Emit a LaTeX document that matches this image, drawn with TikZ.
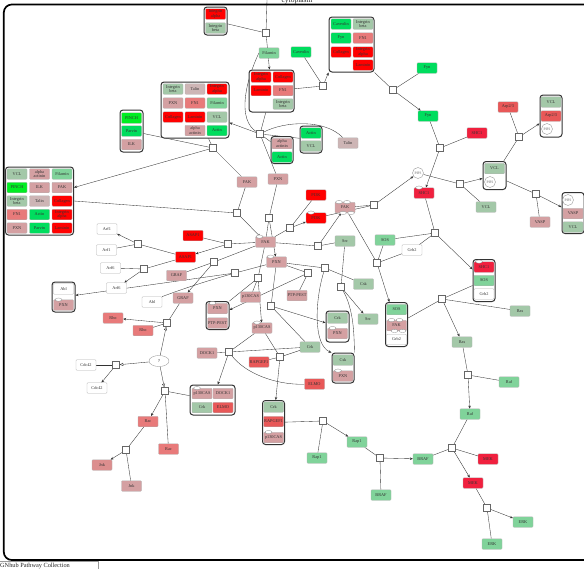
\documentclass[tikz,border=0pt]{standalone}
\usepackage{fontspec}
\setmainfont{Liberation Serif}
\usetikzlibrary{arrows.meta,shapes.geometric,backgrounds}
\pgfdeclarelayer{edges}
\pgfsetlayers{background,edges,main}
\definecolor{cRed}{HTML}{FF0000}
\definecolor{cCrim}{HTML}{F0203E}
\definecolor{cSalm}{HTML}{E87A7A}
\definecolor{cSalmB}{HTML}{E85858}
\definecolor{cPink}{HTML}{D4A0A2}
\definecolor{cPinkB}{HTML}{DC8E8E}
\definecolor{cTalin}{HTML}{CDB5B5}
\definecolor{cGG}{HTML}{A3C8A8}
\definecolor{cGreen}{HTML}{80D39A}
\definecolor{cBright}{HTML}{00DD5E}
\definecolor{cLime}{HTML}{00EE22}
\begin{document}
\begin{tikzpicture}[x=1pt,y=-1pt,
  pn/.style={rectangle, draw=black!30, line width=0.3pt, rounded corners=0.8pt,
    minimum width=20pt, minimum height=10.5pt, inner sep=0.2pt,
    font=\fontsize{4.3}{4.4}\selectfont, align=center, text=black!80},
  cx/.style={rectangle, draw=black!80, line width=1pt, rounded corners=3pt, fill=white, inner sep=0},
  sq/.style={rectangle, draw=black!60, fill=white, minimum size=7pt, inner sep=0, line width=0.35pt},
  ov/.style={ellipse, draw=black!45, fill=white, minimum width=7pt, minimum height=3.2pt, inner sep=0, line width=0.3pt},
  pip/.style={circle, draw=black!40, fill=white, minimum size=11pt, inner sep=0,
    font=\fontsize{3.6}{4}\selectfont, text=black!60},
  ln/.style={draw=black!80, line width=0.35pt},
  ar/.style={ln, -{Stealth[length=3pt,width=2.5pt]}},
  mdl/.style={ln, -{Triangle[open,length=3.5pt,width=3pt]}}]
\useasboundingbox (0,0) rectangle (584,568);
\begin{pgfonlayer}{background}
\fill[white] (0,0) rectangle (584,568);
\end{pgfonlayer}

% compartment frame
\draw[line width=1.7pt, rounded corners=8pt] (584,4.5) -- (3.8,4.5) -- (3.8,560) -- (584,560);
\node[font=\fontsize{7.5}{7.5}\selectfont, anchor=base, text=black!85] (cyto) at (297,2.3) {cytoplasm};
\coordinate (cy) at (267,0);
\draw[draw=black!40, fill=white, line width=0.4pt] (-1,561.5) rectangle (98,570);
\node[font=\fontsize{6.3}{6.3}\selectfont, anchor=west, inner sep=0, text=black!85] (coll) at (0,565.5) {GNhub Pathway Collection};

% ---------- complexes ----------
\node[cx, minimum width=23, minimum height=28] (cxTop) at (215.5,21) {};
\node[cx, minimum width=45, minimum height=55] (cxTR) at (351.5,44.5) {};
\node[cx, minimum width=45, minimum height=42] (cxC) at (271.5,91) {};
\node[cx, minimum width=68, minimum height=56] (cxB) at (195,110) {};
\node[cx, minimum width=23, minimum height=42] (cxP) at (131.5,131) {};
\node[cx, minimum width=68, minimum height=68] (cxL) at (39.5,201) {};
\node[cx, minimum width=22, minimum height=27] (cxAV) at (311,139.5) {};
\node[cx, minimum width=22, minimum height=27] (cxAA) at (282,150) {};
\node[cx, minimum width=23, minimum height=28] (cxVP) at (494.5,175.5) {};
\node[cx, minimum width=22, minimum height=42] (cxVAP) at (551,116) {};
\node[cx, minimum width=22, minimum height=41] (cxPVV) at (573,213) {};
\node[cx, minimum width=22, minimum height=42] (cxS) at (484,280.5) {};
\node[cx, minimum width=22, minimum height=44] (cxSF) at (396.5,324.5) {};
\node[cx, minimum width=23, minimum height=30] (cxAbl) at (63.5,297) {};
\node[cx, minimum width=23, minimum height=28] (cxPP) at (217.5,315.5) {};
\node[cx, minimum width=23, minimum height=31] (cxCP) at (337.5,326.5) {};
\node[cx, minimum width=22, minimum height=30] (cxCsk) at (343,368) {};
\node[cx, minimum width=45, minimum height=30] (cxD) at (212.5,400) {};
\node[cx, minimum width=22, minimum height=44] (cxR) at (273.5,422.5) {};

% ---------- complex members ----------
\node[pn, fill=cRed] (ta) at (215.5,14) {Integrin\\alpha};
\node[pn, fill=cGG] (tb) at (215.5,28) {Integrin\\beta};

\node[pn, fill=cBright] (tr1) at (341,24) {Caveolin};
\node[pn, fill=cGG] (tr2) at (363,24) {Integrin\\beta};
\node[pn, fill=cBright] (tr3) at (341,38) {Fyn};
\node[pn, fill=cSalm] (tr4) at (363,38) {FN1};
\node[pn, fill=cRed] (tr5) at (341,52) {Collagen};
\node[pn, fill=cRed] (tr6) at (363,52) {Integrin\\alpha};
\node[pn, fill=cRed] (tr7) at (363,65) {Laminin};

\node[pn, fill=cRed] (c1) at (261,77) {Integrin\\alpha};
\node[pn, fill=cRed] (c2) at (283,77) {Collagen};
\node[pn, fill=cRed] (c3) at (261,90.5) {Laminin};
\node[pn, fill=cSalm] (c4) at (283,90.5) {FN1};
\node[pn, fill=cGG] (c5) at (283,104) {Integrin\\beta};

\node[pn, fill=cGG] (b11) at (173,89) {Integrin\\beta};
\node[pn, fill=cTalin] (b12) at (195,89) {Talin};
\node[pn, fill=cRed] (b13) at (217,89) {Integrin\\alpha};
\node[pn, fill=cPink] (b21) at (173,103) {PXN};
\node[pn, fill=cSalm] (b22) at (195,103) {FN1};
\node[pn, fill=cGreen] (b23) at (217,103) {Filamin};
\node[pn, fill=cRed] (b31) at (173,117) {Collagen};
\node[pn, fill=cRed] (b32) at (195,117) {Laminin};
\node[pn, fill=cGG] (b33) at (217,117) {VCL};
\node[pn, fill=cPink] (b42) at (195,130.5) {alpha\\actinin};
\node[pn, fill=cBright] (b43) at (217,130.5) {Actin};

\node[pn, fill=cLime] (p1) at (131.5,118) {PINCH};
\node[pn, fill=cBright] (p2) at (131.5,131) {Parvin};
\node[pn, fill=cPink] (p3) at (131.5,144.5) {ILK};

\node[pn, fill=cGG] (l11) at (17,174) {VCL};
\node[pn, fill=cPink] (l12) at (39.5,174) {alpha\\actinin};
\node[pn, fill=cGreen] (l13) at (62,174) {Filamin};
\node[pn, fill=cLime] (l21) at (17,187.5) {PINCH};
\node[pn, fill=cPink] (l22) at (39.5,187.5) {ILK};
\node[pn, fill=cPink] (l23) at (62,187.5) {FAK};
\node[pn, fill=cGG] (l31) at (17,201) {Integrin\\beta};
\node[pn, fill=cTalin] (l32) at (39.5,201) {Talin};
\node[pn, fill=cRed] (l33) at (62,201) {Collagen};
\node[pn, fill=cSalm] (l41) at (17,214.5) {FN1};
\node[pn, fill=cBright] (l42) at (39.5,214.5) {Actin};
\node[pn, fill=cRed] (l43) at (62,214.5) {Integrin\\alpha};
\node[pn, fill=cPink] (l51) at (17,228) {PXN};
\node[pn, fill=cBright] (l52) at (39.5,228) {Parvin};
\node[pn, fill=cRed] (l53) at (62,228) {Laminin};

\node[pn, fill=cBright] (av1) at (311,133) {Actin};
\node[pn, fill=cGG] (av2) at (311,146) {VCL};
\node[pn, fill=cPink] (aa1) at (282,143.5) {alpha\\actinin};
\node[pn, fill=cBright] (aa2) at (282,157) {Actin};

\node[pn, fill=cGG] (vp1) at (494.5,168.5) {VCL};
\node[pip] (vp2) at (490,182) {PIP2};
\node[pn, fill=cGG] (vap1) at (551,102) {VCL};
\node[pn, fill=cSalmB] (vap2) at (551,116) {Arp2/3};
\node[pip] (vap3) at (547,129) {PIP2};
\node[pip] (pvv1) at (568,200) {PIP2};
\node[pn, fill=cPink] (pvv2) at (573,213.5) {VASP};
\node[pn, fill=cGG] (pvv3) at (573,227) {VCL};

\node[pn, fill=cCrim] (s1) at (484,267) {SHC1};
\node[pn, fill=cGreen] (s2) at (484,280.5) {SOS};
\node[pn, fill=white] (s3) at (484,294) {Grb2};
\node[ov] at ([xshift=-5pt]s1.north) {};

\node[pn, fill=cGreen] (sf1) at (396.5,309.5) {SOS};
\node[pn, fill=cPink] (sf2) at (396.5,325.5) {FAK};
\node[pn, fill=white] (sf3) at (396.5,339.5) {Grb2};
\node[ov] at ([xshift=-5pt]sf2.north) {};
\node[ov] at ([xshift=3pt]sf2.north) {};
\node[ov] at ([xshift=-2pt]sf2.south) {};
\node[ov] at ([xshift=6pt]sf2.south) {};

\node[pn, fill=white] (ab1) at (63.5,289) {Abl};
\node[pn, fill=cPink] (ab2) at (63.5,305) {PXN};
\node[ov] at ([xshift=-5pt]ab2.north) {};

\node[pn, fill=cPink] (pp1) at (217.5,308.5) {PXN};
\node[pn, fill=cPink] (pp2) at (217.5,323) {PTP-PEST};
\node[ov] at ([xshift=-5pt]pp1.north) {};

\node[pn, fill=cGG] (cp1) at (337.5,318) {Crk};
\node[pn, fill=cPink] (cp2) at (337.5,333.5) {PXN};
\node[ov] at ([xshift=-5pt]cp2.north) {};

\node[pn, fill=cGG] (ck1) at (343,360) {Csk};
\node[pn, fill=cPink] (ck2) at (343,376) {PXN};
\node[ov] at ([xshift=-5pt]ck2.north) {};

\node[pn, fill=cPink] (d1) at (202,393.5) {p130CAS};
\node[pn, fill=cPink] (d2) at (223,393.5) {DOCK1};
\node[pn, fill=cGG] (d3) at (202,407.5) {Crk};
\node[pn, fill=cSalmB] (d4) at (223,407.5) {ELMO};
\node[ov] at ([xshift=-5pt]d1.north) {};

\node[pn, fill=cGG] (r1) at (273.5,407) {Crk};
\node[pn, fill=cSalmB] (r2) at (273.5,421.5) {RAPGEF1};
\node[pn, fill=cPink] (r3) at (273.5,437.5) {p130CAS};
\node[ov] at ([xshift=-5pt]r3.north) {};

% ---------- single entities ----------
\node[pn, fill=cGreen] (fil) at (269,53) {Filamin};
\node[pn, fill=cBright] (cav) at (301,52) {Caveolin};
\node[pn, fill=cTalin] (talin) at (348,143) {Talin};
\node[pn, fill=cPink] (fakA) at (247,182) {FAK};
\node[pn, fill=cPink] (pxA) at (278,179) {PXN};
\node[pn, fill=cBright] (fyn1) at (427,68) {Fyn};
\node[pn, fill=cBright] (fyn2) at (428,116) {Fyn};
\node[pn, fill=cCrim] (shcA) at (477,133) {SHC1};
\node[pn, fill=cCrim] (shcB) at (424,193) {SHC1};
\node[ov] at ([xshift=-5pt]shcB.north) {};
\node[pip] (pip3) at (418,173) {PIP3};
\node[pn, fill=cGG] (vclA) at (486,207) {VCL};
\node[pn, fill=cSalmB] (arp) at (508,107) {Arp2/3};
\node[pn, fill=cPink] (vasp) at (540,222) {VASP};
\node[pn, fill=cRed] (pi3kA) at (316,195) {PI3K};
\node[pn, fill=cRed] (pi3kB) at (316,218) {PI3K};
\node[ov] at ([xshift=-5pt]pi3kB.north) {};
\node[pn, fill=cPink] (fakO) at (345,207.5) {FAK};
\node[ov] at ([xshift=-6pt]fakO.north) {};
\node[ov] at ([xshift=2pt]fakO.north) {};
\node[ov] at ([xshift=-2pt]fakO.south) {};
\node[ov] at ([xshift=6pt]fakO.south) {};
\node[pn, fill=cGG] (srcA) at (345,241) {Src};
\node[pn, fill=cGreen] (sosA) at (385,240) {SOS};
\node[pn, fill=white] (grbA) at (412,250) {Grb2};
\node[pn, fill=cGG] (rasA) at (520,311) {Ras};
\node[pn, fill=cGG] (rasB) at (462,342) {Ras};
\node[pn, fill=cGreen] (rafA) at (509,382) {Raf};
\node[pn, fill=cGreen] (rafB) at (470,414) {Raf};
\node[pn, fill=cCrim] (mekA) at (488,459) {MEK};
\node[pn, fill=cCrim] (mekB) at (473,483) {MEK};
\node[pn, fill=cGreen] (brafA) at (423,459) {BRAF};
\node[pn, fill=cGreen] (brafB) at (381,495) {BRAF};
\node[pn, fill=cGreen] (erkA) at (523,522) {ERK};
\node[pn, fill=cGreen] (erkB) at (492,544) {ERK};
\node[pn, fill=cGreen] (rapA) at (357,442) {Rap1};
\node[pn, fill=cGreen] (rapB) at (317,458) {Rap1};

\node[pn, fill=cPink] (fakC) at (265.5,242) {FAK};
\node[ov] at ([xshift=-6pt]fakC.north) {};
\node[pn, fill=cRed] (asapA) at (193,235.5) {ASAP1};
\node[pn, fill=cRed] (asapB) at (185.5,257) {ASAP1};
\node[pn, fill=white] (arf1A) at (107,229) {Arf1};
\node[pn, fill=white] (arf1B) at (106.5,250) {Arf1};
\node[pn, fill=white] (arf6A) at (110.5,268) {Arf6};
\node[pn, fill=white] (arf6B) at (116.5,288) {Arf6};
\node[pn, fill=cPink] (grafA) at (176.5,275.5) {GRAF};
\node[pn, fill=cPink] (grafB) at (183,298) {GRAF};
\node[pn, fill=white] (ablS) at (152,302) {Abl};
\node[pn, fill=cSalm] (rhoA) at (113,318) {Rho};
\node[pn, fill=cSalm] (rhoB) at (143,330.5) {Rho};
\node[ellipse, draw=black!45, fill=white, minimum width=20pt, minimum height=11pt, inner sep=0,
  line width=0.3pt, font=\fontsize{4.3}{4.4}\selectfont] (qm) at (159,361) {?};
\node[pn, fill=white] (cdcA) at (86,365) {Cdc42};
\node[pn, fill=white] (cdcB) at (97,388) {Cdc42};
\node[pn, fill=cSalm] (racA) at (148,421.5) {Rac};
\node[pn, fill=cSalm] (racB) at (168.5,449) {Rac};
\node[pn, fill=cPinkB] (jnkA) at (102,465) {Jnk};
\node[pn, fill=cPink] (jnkB) at (131.5,486) {Jnk};
\node[pn, fill=cPink] (pxC) at (276.5,262) {PXN};
\node[ov] at ([xshift=-6pt]pxC.north) {};
\node[pn, fill=cPink] (pcasA) at (250.5,297) {p130CAS};
\node[pn, fill=cPink] (ptpA) at (297,295.5) {PTP-PEST};
\node[pn, fill=cPink] (pcasB) at (262,328) {p130CAS};
\node[ov] at ([xshift=-5pt]pcasB.north) {};
\node[pn, fill=cPink] (dockA) at (207,353) {DOCK1};
\node[pn, fill=cGG] (crkA) at (310,347) {Crk};
\node[pn, fill=cSalmB] (rapgA) at (259,362) {RAPGEF1};
\node[pn, fill=cSalmB] (elmoA) at (314.5,384) {ELMO};
\node[pn, fill=cGG] (cskA) at (363.5,284) {Csk};
\node[pn, fill=cGG] (srcB) at (368,319) {Src};

% ---------- process squares ----------
\node[sq] (sTop) at (266,33) {};
\node[sq] (sCav) at (323,86) {};
\node[sq] (sCen) at (260,134) {};
\node[sq] (sLeft) at (213,148) {};
\node[sq] (sFyn) at (393,90) {};
\node[sq] (sShcA) at (440,148) {};
\node[sq] (sVcl) at (460,184) {};
\node[sq] (sArp) at (519,137) {};
\node[sq] (sVasp) at (536,194) {};
\node[sq] (sFak2) at (374,205) {};
\node[sq] (sPi3k) at (290,228) {};
\node[sq] (sFakC) at (237,213) {};
\node[sq] (sPxn) at (269,218) {};
\node[sq] (sSrc1) at (318,246) {};
\node[sq] (sAsap) at (228,244) {};
\node[sq] (sGraf) at (214,262) {};
\node[sq] (sAbl) at (235,273) {};
\node[sq] (sPcas) at (258,278) {};
\node[sq] (sPtp) at (308,273) {};
\node[sq] (sCsk) at (325,268) {};
\node[sq] (sSrc2) at (341,287) {};
\node[sq] (sCrk) at (271,306) {};
\node[sq] (sArf1) at (138,244) {};
\node[sq] (sArf6) at (144,269) {};
\node[sq] (sRho) at (167,323) {};
\node[sq] (sCdc) at (116,365) {};
\node[sq] (sRac) at (165,391) {};
\node[sq] (sJnk) at (126,450) {};
\node[sq] (sDock) at (229,352) {};
\node[sq] (sRapg) at (280,357) {};
\node[sq] (sRap1) at (323,421) {};
\node[sq] (sBraf) at (380,458) {};
\node[sq] (sShc) at (435,233) {};
\node[sq] (sSos) at (377,263) {};
\node[sq] (sRas) at (442,299) {};
\node[sq] (sRaf) at (468,375) {};
\node[sq] (sMek) at (452,448) {};
\node[sq] (sErk) at (487,508) {};

% ---------- connectors ----------
\begin{pgfonlayer}{edges}
\draw[ln] (cy) -- (sTop);
\draw[ln] (cxTop) -- (sTop);
\draw[ar] (sTop) -- (cxC);
\draw[ln] (fil.west) .. controls (244,85) and (238,120) .. (sCen);
\draw[ln] (cxC) -- (sCav);
\draw[ln] (cav) -- (sCav);
\draw[ar] (sCav) -- (cxTR.south west);
\draw[ln] (cxTR.south east) -- (sFyn);
\draw[ln] (fyn1) -- (sFyn);
\draw[ar] (sFyn) -- (fyn2);
\draw[ln] (fyn2) -- (sShcA);
\draw[ln] (shcA) -- (sShcA);
\draw[ar] (sShcA) -- (shcB);
\draw[ln] (cxC) -- (sCen);
\draw[ar] (sCen) -- (cxB);
\draw[ln] (sCen) -- (cxAV);
\draw[ln] (sCen) -- (cxAA);
\draw[ln] (sCen) .. controls (285,121) and (325,119) .. (talin);
\draw[ln] (sCen) -- (pxA);
\draw[ln] (cxB) -- (sLeft);
\draw[ln] (cxP) -- (sLeft);
\draw[ar] (sLeft) -- (cxL.east |- l23);
\draw[ln] (sLeft) -- (fakA);
\draw[ln] (fakA) -- (sFakC);
\draw[ln] (cxL.east |- l33) -- (sFakC);
\draw[ar] (sFakC) -- (fakC);
\draw[ln] (pxA) -- (sPxn);
\draw[ln] (fakC) -- (sPxn);
\draw[ar] (sPxn) -- (pxC);
\draw[ln] (fakC) -- (sPi3k);
\draw[ln] (pi3kA) -- (sPi3k);
\draw[ar] (sPi3k) -- (pi3kB);
\draw[ln] (pi3kB) -- (sFak2);
\draw[ln] (fakO) -- (sFak2);
\draw[ar] (sFak2) -- (pip3);
\draw[ln] (fakC) -- (sSrc1);
\draw[ln] (srcA) -- (sSrc1);
\draw[ar] (sSrc1) -- (fakO);
\draw[ln] (pip3) -- (sVcl);
\draw[ln] (vclA) -- (sVcl);
\draw[ar] (sVcl) -- (cxVP);
\draw[ln] (cxVP) -- (sArp);
\draw[ln] (arp) -- (sArp);
\draw[ar] (sArp) -- (cxVAP);
\draw[ln] (cxVP) -- (sVasp);
\draw[ln] (vasp) -- (sVasp);
\draw[ar] (sVasp) -- (cxPVV);
\draw[ln] (shcB) -- (sShc);
\draw[ln] (sosA) -- (sShc);
\draw[ln] (grbA) -- (sShc);
\draw[ar] (sShc) -- (cxS);
\draw[ln] (fakO) -- (sSos);
\draw[ln] (sosA) -- (sSos);
\draw[ln] (grbA) -- (sSos);
\draw[ar] (sSos) -- (cxSF);
\draw[ln] (cxSF) -- (sRas);
\draw[ln] (cxS) -- (sRas);
\draw[ln] (rasA) -- (sRas);
\draw[ar] (sRas) -- (rasB);
\draw[ln] (rasB) -- (sRaf);
\draw[ln] (rafA) -- (sRaf);
\draw[ar] (sRaf) -- (rafB);
\draw[ln] (rafB) -- (sMek);
\draw[ln] (brafA) -- (sMek);
\draw[ln] (mekA) -- (sMek);
\draw[ar] (sMek) -- (mekB);
\draw[ln] (mekB) -- (sErk);
\draw[ln] (erkB) -- (sErk);
\draw[ar] (sErk) -- (erkA);
\draw[ln] (rapA) -- (sBraf);
\draw[ln] (brafB) -- (sBraf);
\draw[ar] (sBraf) -- (brafA);
\draw[ln] (cxR) -- (sRap1);
\draw[ln] (rapB) -- (sRap1);
\draw[ar] (sRap1) -- (rapA);
\draw[ln] (asapA) -- (sAsap);
\draw[ln] (fakC) -- (sAsap);
\draw[ar] (sAsap) -- (asapB);
\draw[ln] (arf1B) -- (sArf1);
\draw[ln] (asapB) -- (sArf1);
\draw[ar] (sArf1) -- (arf1A);
\draw[ln] (arf6A) -- (sArf6);
\draw[ln] (asapB) -- (sArf6);
\draw[ar] (sArf6) -- (arf6B);
\draw[ln] (fakC) -- (sGraf);
\draw[ln] (grafA) -- (sGraf);
\draw[ar] (sGraf) -- (grafB);
\draw[ln] (pxC) -- (sAbl);
\draw[ln] (ablS.north east) .. controls (185,288) and (210,280) .. (sAbl);
\draw[ar] (sAbl) -- (cxAbl);
\draw[ln] (fakC) -- (sPcas);
\draw[ln] (pcasA) -- (sPcas);
\draw[ar] (sPcas) -- (pcasB);
\draw[ln] (sPcas) -- (cxPP.north east);
\draw[ln] (pxC) -- (sPtp);
\draw[ln] (ptpA) -- (sPtp);
\draw[ar] (sPtp) -- (cxPP);
\draw[ln] (pxC) -- (sCsk);
\draw[ln] (cskA) -- (sCsk);
\draw[ar] (sCsk) .. controls (315,300) and (313,345) .. (cxCsk.north west);
\draw[ln] (srcA) -- (sSrc2);
\draw[ar] (sSrc2) -- (srcB);
\draw[ln] (sSrc2) .. controls (354,310) and (354,335) .. (cxCsk.north east);
\draw[ln] (pxC) -- (sCrk);
\draw[ar] (sCrk) -- (cxCP);
\draw[ln] (sCrk) -- (crkA);
\draw[ln] (dockA) -- (sDock);
\draw[ln] (pcasB) -- (sDock);
\draw[ln] (crkA) -- (sDock);
\draw[ln] (sDock) .. controls (245,373) and (275,385) .. (elmoA);
\draw[ar] (sDock) -- (cxD);
\draw[ln] (pcasB) -- (sRapg);
\draw[ln] (rapgA) -- (sRapg);
\draw[ln] (crkA) -- (sRapg);
\draw[ar] (sRapg) -- (cxR);
\draw[ln] (grafB) -- (sRho);
\draw[ln] (rhoB) -- (sRho);
\draw[ar] (sRho) -- (rhoA);
\draw[mdl] (qm) -- (sRho);
\draw[mdl] (qm) -- (sCdc);
\draw[ln] (cdcA) -- (sCdc);
\draw[ar] (sCdc) -- (cdcB);
\draw[mdl] (qm) -- (sRac);
\draw[ln] (cxD) -- (sRac);
\draw[ar] (sRac) -- (racA);
\draw[ln] (sRac) -- (racB);
\draw[ln] (racA) -- (sJnk);
\draw[ar] (sJnk) -- (jnkA);
\draw[ln] (sJnk) -- (jnkB);
\end{pgfonlayer}
\end{tikzpicture}
\end{document}
